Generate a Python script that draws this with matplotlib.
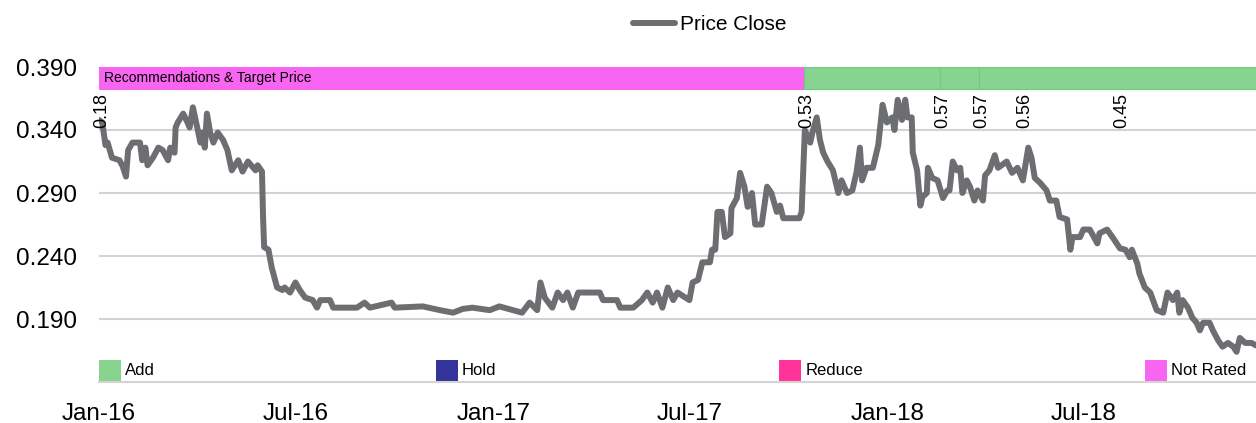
import matplotlib
matplotlib.use('Agg')
import matplotlib.pyplot as plt
import matplotlib.dates as mdates
import pandas as pd

plt.rcParams['font.family'] = ['Liberation Sans', 'DejaVu Sans']

start = pd.Timestamp('2016-01-01')

# price series, days since 1 Jan 2016
price_days = [0, 3, 6, 8, 12, 19, 22, 25, 27, 31, 38, 40, 43, 45, 50, 55, 59, 64, 66, 70,
              71, 73, 78, 82, 84, 87, 90, 94, 96, 98, 100, 103, 106, 110, 115, 119, 123, 129, 133, 138,
              145, 147, 151, 152, 153, 157, 160, 165, 170, 172, 177, 182, 186, 191, 198, 202, 205, 214, 217, 239,
              246, 251, 271, 274, 300, 316, 328, 337, 346, 362, 371, 392, 399, 406, 409, 413, 420, 425, 430, 434,
              439, 444, 464, 467, 480, 483, 495, 503, 508, 513, 517, 522, 527, 532, 536, 547, 550, 555, 559, 566,
              568, 571, 573, 577, 580, 585, 586, 591, 594, 598, 601, 605, 608, 614, 619, 623, 628, 631, 634, 649,
              651, 654, 659, 661, 665, 668, 671, 675, 680, 685, 688, 693, 698, 702, 705, 707, 711, 717, 722, 726,
              730, 735, 737, 740, 744, 747, 749, 753, 754, 758, 761, 763, 767, 768, 772, 777, 782, 786, 788, 791,
              795, 798, 800, 804, 807, 811, 814, 819, 821, 825, 830, 833, 841, 846, 851, 856, 861, 864, 867, 872,
              878, 881, 887, 890, 897, 900, 902, 909, 912, 918, 925, 927, 934, 939, 946, 951, 955, 957, 962, 964,
              969, 974, 980, 986, 990, 995, 999, 1001, 1004, 1009, 1013, 1017, 1020, 1023, 1029, 1032, 1037, 1041, 1046, 1051,
              1054, 1057, 1062, 1068, 1072]
price_close = [0.348, 0.346, 0.328, 0.330, 0.318, 0.316, 0.311, 0.303, 0.324, 0.330, 0.330, 0.316, 0.326, 0.312, 0.318, 0.326, 0.324, 0.316, 0.326, 0.322,
               0.342, 0.346, 0.353, 0.346, 0.342, 0.358, 0.346, 0.330, 0.338, 0.326, 0.353, 0.338, 0.330, 0.338, 0.332, 0.324, 0.308, 0.316, 0.307, 0.315,
               0.308, 0.312, 0.307, 0.271, 0.247, 0.245, 0.231, 0.215, 0.213, 0.215, 0.211, 0.219, 0.213, 0.207, 0.205, 0.199, 0.205, 0.205, 0.199, 0.199,
               0.203, 0.199, 0.203, 0.199, 0.200, 0.197, 0.195, 0.198, 0.199, 0.197, 0.200, 0.195, 0.203, 0.197, 0.219, 0.207, 0.199, 0.211, 0.205, 0.211,
               0.199, 0.211, 0.211, 0.205, 0.205, 0.199, 0.199, 0.205, 0.211, 0.203, 0.211, 0.199, 0.215, 0.205, 0.211, 0.205, 0.219, 0.221, 0.235, 0.235,
               0.245, 0.245, 0.275, 0.275, 0.255, 0.258, 0.278, 0.286, 0.306, 0.295, 0.279, 0.290, 0.265, 0.265, 0.295, 0.290, 0.275, 0.280, 0.270, 0.270,
               0.275, 0.340, 0.330, 0.338, 0.350, 0.332, 0.322, 0.315, 0.308, 0.290, 0.300, 0.290, 0.292, 0.307, 0.326, 0.300, 0.310, 0.310, 0.328, 0.360,
               0.346, 0.350, 0.340, 0.364, 0.348, 0.364, 0.350, 0.350, 0.322, 0.308, 0.280, 0.287, 0.290, 0.310, 0.302, 0.300, 0.286, 0.292, 0.292, 0.315,
               0.308, 0.310, 0.290, 0.300, 0.295, 0.284, 0.292, 0.284, 0.304, 0.308, 0.320, 0.310, 0.315, 0.306, 0.310, 0.300, 0.326, 0.318, 0.302, 0.298,
               0.292, 0.284, 0.284, 0.271, 0.269, 0.245, 0.255, 0.255, 0.261, 0.261, 0.250, 0.258, 0.261, 0.255, 0.246, 0.245, 0.239, 0.245, 0.234, 0.226,
               0.215, 0.211, 0.197, 0.195, 0.211, 0.205, 0.211, 0.195, 0.205, 0.199, 0.191, 0.187, 0.181, 0.187, 0.187, 0.181, 0.173, 0.168, 0.171, 0.168,
               0.164, 0.175, 0.171, 0.171, 0.169]
end_day = 1072

# recommendation bands and target price labels
band_start_days = [0, 653, 779, 815]
band_ratings = ['Not Rated', 'Add', 'Add', 'Add']
tp_days = [0, 653, 779, 815, 855, 945]
tp_labels = ['0.18', '0.53', '0.57', '0.57', '0.56', '0.45']

legend_ratings = ['Add', 'Hold', 'Reduce', 'Not Rated']
rating_colors = {'Add': '#86d48f', 'Hold': '#333399', 'Reduce': '#ff3399', 'Not Rated': '#f865f0'}
rating_edges = {'Add': '#74c87f', 'Hold': '#333399', 'Reduce': '#ff3399', 'Not Rated': '#f865f0'}

y_ticks = [0.19, 0.24, 0.29, 0.34, 0.39]
x_ticks = ['2016-01-01', '2016-07-01', '2017-01-01', '2017-07-01', '2018-01-01', '2018-07-01']

dates = start + pd.to_timedelta(price_days, unit='D')
end_date = start + pd.Timedelta(days=end_day)

fig = plt.figure(figsize=(12.56, 4.23), dpi=100)
ax = fig.add_axes([99 / 1256, 1 - 382 / 423, 1 - 99 / 1256, (382 - 67) / 423])

line, = ax.plot(dates, price_close, color='#6d6e71', lw=4.3, solid_joinstyle='round',
                solid_capstyle='round', label='Price Close', zorder=3)

# the recommendation bar along the top
bar_lo, bar_h = 0.3725, 0.0175
edges = band_start_days + [end_day]
for i, rating in enumerate(band_ratings):
    x0 = mdates.date2num(start + pd.Timedelta(days=edges[i]))
    x1 = mdates.date2num(start + pd.Timedelta(days=edges[i + 1]))
    ax.broken_barh([(x0, x1 - x0)], (bar_lo, bar_h), facecolors=rating_colors[rating],
                   edgecolors=rating_edges[rating], linewidth=0.8, zorder=2)
ax.text(mdates.date2num(start) + 4.5, bar_lo + bar_h / 2, 'Recommendations & Target Price',
        fontsize=10, va='center', ha='left', zorder=4)

for d, lab in zip(tp_days, tp_labels):
    ax.text(mdates.date2num(start + pd.Timedelta(days=d)) + 3, 0.3415, lab, rotation=90,
            fontsize=13, ha='center', va='bottom', zorder=4)

# rating key inside the axes, above the bottom line
key_pos = [0.0, 0.291, 0.588, 0.904]
for xp, rating in zip(key_pos, legend_ratings):
    ax.add_patch(plt.Rectangle((xp, 0.0), 0.019, 0.07, transform=ax.transAxes,
                               facecolor=rating_colors[rating], edgecolor='none', zorder=2))
    ax.text(xp + 0.0225, 0.035, rating, transform=ax.transAxes, fontsize=12,
            va='center', ha='left')

ax.set_xlim(start, end_date)
ax.set_ylim(0.14, 0.39)
ax.set_yticks(y_ticks)
ax.yaxis.set_major_formatter(plt.FormatStrFormatter('%.3f'))
ax.set_xticks(pd.to_datetime(x_ticks))
ax.xaxis.set_major_formatter(mdates.DateFormatter('%b-%y'))
ax.tick_params(axis='both', length=0, labelsize=17.5)
ax.tick_params(axis='y', pad=16)
ax.tick_params(axis='x', pad=15)
ax.grid(axis='y', color='#d3d3d3', lw=1.5, zorder=0)
for s in ['top', 'left', 'right']:
    ax.spines[s].set_visible(False)
ax.spines['bottom'].set_color('#d3d3d3')
ax.spines['bottom'].set_linewidth(1.5)

fig.legend(handles=[line], loc='center', bbox_to_anchor=(710 / 1256, 1 - 25 / 423),
           frameon=False, fontsize=15, handlelength=2.0, handletextpad=0.25)

fig.savefig('out.png', dpi=100)
